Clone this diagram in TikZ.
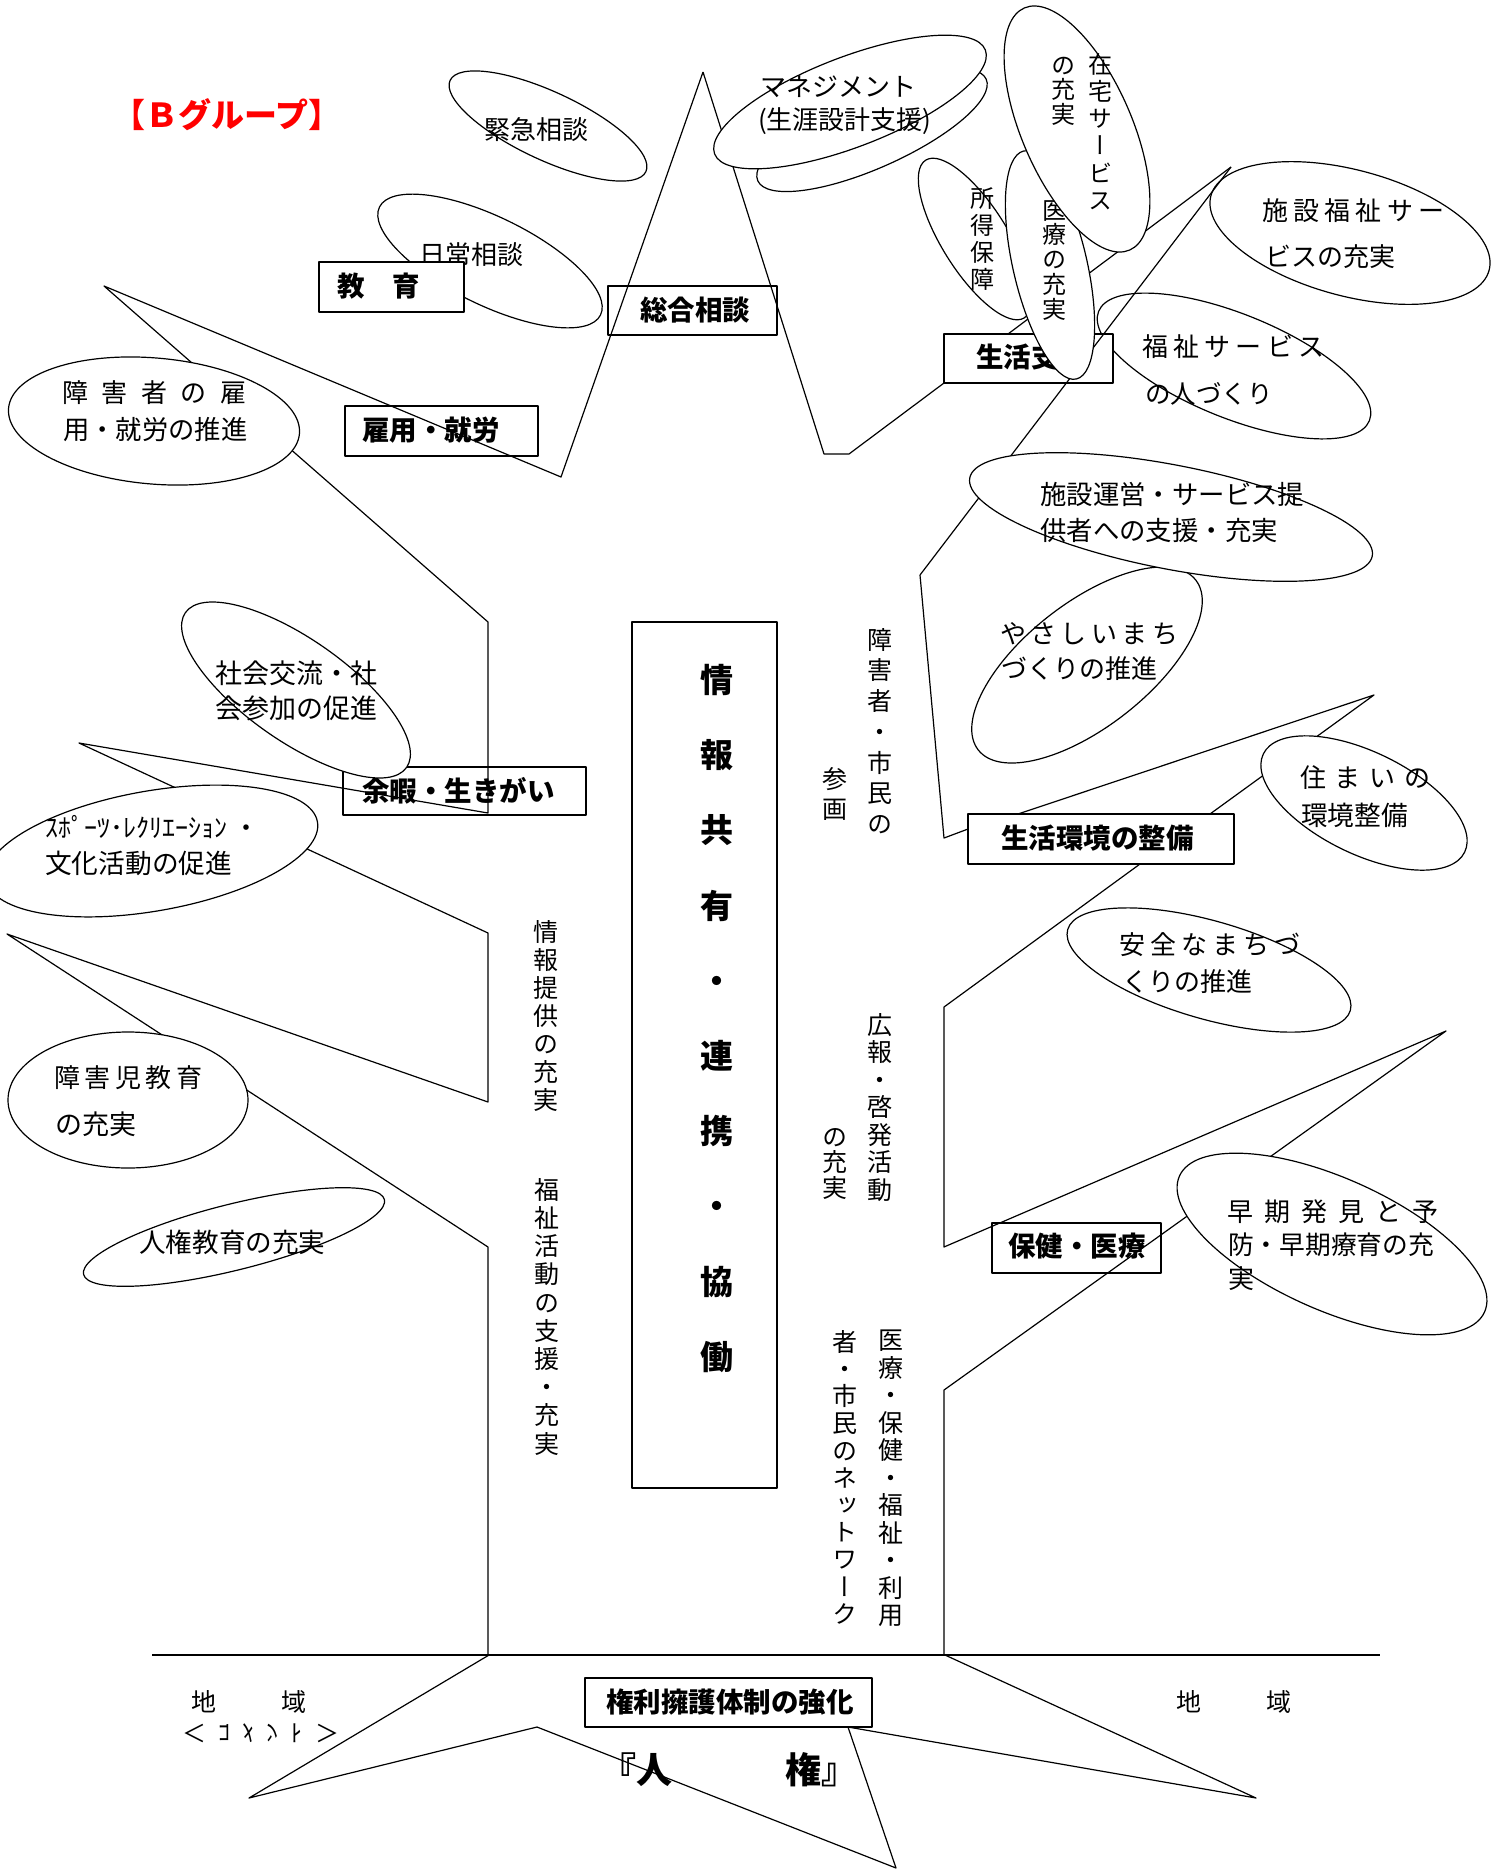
\documentclass[tikz,border=0pt]{standalone}
\usepackage{fontspec}
\usepackage{graphicx}
\setmainfont{Noto Sans CJK JP}
\newfontfamily\jp{Noto Sans CJK JP}
\newfontfamily\jpv[RawFeature=+vert]{Noto Sans CJK JP}
\usetikzlibrary{shapes.geometric}
\newcommand\jpsz[1]{\fontsize{#1pt}{#1pt}\selectfont}
\newcommand\spr[2]{\makebox[#1pt][s]{#2}}
\begin{document}
\begin{tikzpicture}[x=1pt,y=-1pt,line join=round,
  ln/.style={line width=1.2pt},
  ell/.style={draw, ellipse, inner sep=0pt, outer sep=0pt, line width=1.2pt, fill=white},
  boxn/.style={draw, rectangle, inner sep=0pt, line width=1.6pt},
  boxf/.style={boxn, fill=white},
  tx/.style={inner sep=0pt, anchor=west, font=\jp\jpsz{26}},
  bt/.style={inner sep=0pt, anchor=west, font=\jp\bfseries\jpsz{27.5}},
  vt/.style={inner sep=0pt, anchor=north, align=center}]
\useasboundingbox (0,0) rectangle (1501,1869);
\fill[white] (0,0) rectangle (1501,1869);

% title
\node[inner sep=0pt, font=\jp\bfseries\jpsz{33}, text=red] (title) at (227,115) {【Ｂグループ】};

% tree outline (under ellipses)
\draw[ln] (703,72) -- (561,477) -- (104,286) -- (488,622) -- (488,813) -- (79,743) -- (488,933) -- (488,1102) -- (7,934) -- (488,1247) -- (488,1655);
\draw[ln] (703,72) -- (824,454) -- (849,454) -- (944,383);
\draw[ln] (1008,334) -- (1231,167);
\draw[ln] (920,575) -- (944,838) -- (968,829);
\draw[ln] (1018,814) -- (1374,695) -- (1210,814);
\draw[ln] (1140,864) -- (944,1007) -- (944,1247) -- (1446,1031) -- (944,1390) -- (944,1655);
\draw[line width=2.5pt] (152,1655) -- (1380,1655);
\draw[ln] (489,1655) -- (249,1798) -- (537,1727) -- (896,1868) -- (848,1727) -- (1256,1798) -- (945,1655);

% ellipses group 1
\node[ell, minimum width=216pt, minimum height=68pt, rotate=-25] (eKinkyu) at (548,126) {};
\node[tx] (tKinkyu) at (484,130) {緊急相談};
\node[ell, minimum width=246pt, minimum height=88pt, rotate=-26] (eNichijo) at (490,261) {};
\node[tx] (tNichijo) at (419,255) {日常相談};
\node[ell, minimum width=250pt, minimum height=76pt, rotate=24] (eMgmtS) at (872,130) {};
\node[ell, minimum width=290pt, minimum height=90pt, rotate=21] (eMgmt) at (850,102) {};
\node[tx] (tMgmt1) at (760,87) {マネジメント};
\node[tx] (tMgmt2) at (758,121) {(生涯設計支援)};
\node[ell, minimum width=292pt, minimum height=126pt, rotate=-5] (eKoyo) at (154,421) {};
\node[tx] (tKoyo1) at (62,393) {\spr{184}{障\hfill 害\hfill 者\hfill の\hfill 雇}};
\node[tx, font=\jp\jpsz{26.3}] (tKoyo2) at (63,430) {用・就労の推進};
\node[ell, minimum width=336pt, minimum height=120pt, rotate=10] (eSports) at (152,851) {};
\node[tx, font=\jp\jpsz{26}] (tSports1) at (45,827) {ｽﾎﾟｰﾂ･ﾚｸﾘｴｰｼｮﾝ ・};
\node[tx, font=\jp\jpsz{26.7}] (tSports2) at (45,863) {文化活動の促進};
\node[ell, minimum width=240pt, minimum height=136pt] (eJido) at (128,1100) {};
\node[tx] (tJido1) at (54,1078) {\spr{148}{障\hfill 害\hfill 児\hfill 教\hfill 育}};
\node[tx, font=\jp\jpsz{27}] (tJido2) at (55,1124) {の充実};
\node[ell, minimum width=310pt, minimum height=66pt, rotate=14] (eJinken) at (234,1237) {};
\node[tx, font=\jp\jpsz{26.6}] (tJinken) at (139,1242) {人権教育の充実};
\node[ell, minimum width=288pt, minimum height=126pt, rotate=-15] (eShisetsu) at (1350,233) {};
\node[tx] (tShisetsu1) at (1262,211) {\spr{182}{施\hfill 設\hfill 福\hfill 祉\hfill サ\hfill ー}};
\node[tx] (tShisetsu2) at (1265,257) {ビスの充実};
\node[ell, minimum width=292pt, minimum height=104pt, rotate=-22] (eHito) at (1234,366) {};
\node[tx] (tHito1) at (1142,347) {\spr{182}{福\hfill 祉\hfill サ\hfill ー\hfill ビ\hfill ス}};
\node[tx, font=\jp\jpsz{25.5}] (tHito2) at (1145,394) {の人づくり};
\node[ell, minimum width=276pt, minimum height=124pt, rotate=38] (eYasashii) at (1087,665) {};
\node[tx] (tYasashii1) at (1000,634) {\spr{178}{や\hfill さ\hfill し\hfill い\hfill ま\hfill ち}};
\node[tx] (tYasashii2) at (1001,669) {づくりの推進};
\node[ell, minimum width=224pt, minimum height=102pt, rotate=-26] (eSumai) at (1364,803) {};
\node[tx] (tSumai1) at (1300,778) {\spr{130}{住\hfill ま\hfill い\hfill の}};
\node[tx, font=\jp\jpsz{26.7}] (tSumai2) at (1301,815) {環境整備};
\node[ell, minimum width=294pt, minimum height=98pt, rotate=-16] (eAnzen) at (1209,970) {};
\node[tx] (tAnzen1) at (1119,945) {\spr{181}{安\hfill 全\hfill な\hfill ま\hfill ち\hfill づ}};
\node[tx] (tAnzen2) at (1122,982) {くりの推進};
\node[ell, minimum width=334pt, minimum height=132pt, rotate=-24] (eSoki) at (1332,1244) {};
\node[tx] (tSoki1) at (1227,1212) {\spr{211}{早\hfill 期\hfill 発\hfill 見\hfill と\hfill 予}};
\node[tx, font=\jp\jpsz{25.75}] (tSoki2) at (1228,1245) {防・早期療育の充};
\node[tx] (tSoki3) at (1228,1279) {実};

% boxes
\node[boxf, minimum width=145pt, minimum height=50pt] (bKyoiku) at (391.5,287) {};
\node[bt] (tKyoiku) at (337,286) {教　育};
\node[boxn, minimum width=169pt, minimum height=49pt] (bSogo) at (692.5,310.5) {};
\node[bt] (tSogo) at (640,310) {総合相談};
\node[boxn, minimum width=193pt, minimum height=50pt] (bKoyo) at (441.5,431) {};
\node[bt] (tKoyoB) at (362,430) {雇用・就労};
\node[boxn, minimum width=243pt, minimum height=48pt] (bYoka) at (464.5,791) {};
\node[bt] (tYoka) at (362,791) {余暇・生きがい};
\node[boxf, minimum width=169pt, minimum height=49pt] (bSeikatsu) at (1028.5,358.5) {};
\node[bt] (tSeikatsu) at (976,357) {生活支援};
\node[boxf, minimum width=266pt, minimum height=50pt] (bKankyo) at (1101,839) {};
\node[bt] (tKankyo) at (1001,838) {生活環境の整備};
\node[boxn, minimum width=169pt, minimum height=50pt] (bHoken) at (1076.5,1248) {};
\node[bt] (tHoken) at (1008,1246) {保健・医療};
\node[boxf, minimum width=287pt, minimum height=49pt] (bKenri) at (728.5,1702.5) {};
\node[bt] (tKenri) at (606,1702) {権利擁護体制の強化};
\node[boxn, minimum width=145pt, minimum height=866pt] (bCenter) at (704.5,1055) {};
\node[vt, font=\jp\bfseries\fontsize{33pt}{75.2pt}\selectfont] (tCenter) at (717,664) {情\\報\\共\\有\\・\\連\\携\\・\\協\\働};

% ellipse over the leisure box
\node[ell, minimum width=270pt, minimum height=102pt, rotate=-35] (eShakai) at (296,690) {};
\node[tx, font=\jp\jpsz{27}] (tShakai1) at (215,673) {社会交流・社};
\node[tx, font=\jp\jpsz{27}] (tShakai2) at (215,708) {会参加の促進};

% long line over the life-support box
\draw[ln] (1231,167) -- (920,575);

% upper right cluster
\node[ell, minimum width=186pt, minimum height=66pt, rotate=-58] (eShotoku) at (975,239) {};
\node[vt, font=\jpv\fontsize{24pt}{27.3pt}\selectfont] (tShotoku) at (982,187) {所\\得\\保\\障};
\node[ell, minimum width=234pt, minimum height=74pt, rotate=-77] (eIryo) at (1050,265) {};
\node[vt, font=\jpv\fontsize{24pt}{24.75pt}\selectfont] (tIryo) at (1054,200) {医\\療\\の\\充\\実};
\node[ell, minimum width=264pt, minimum height=110pt, rotate=-66.5] (eZaitaku) at (1077,129) {};
\node[vt, font=\jpv\fontsize{24pt}{27.2pt}\selectfont] (tZaitaku1) at (1100,53) {在\\宅\\サ\\ー\\ビ\\ス};
\node[vt, font=\jpv\fontsize{24pt}{24.5pt}\selectfont] (tZaitaku2) at (1063,57) {の\\充\\実};

\node[ell, minimum width=410pt, minimum height=104pt, rotate=-11] (eUnei) at (1171,517) {};
\node[tx, font=\jp\jpsz{26.4}] (tUnei1) at (1040,494) {施設運営・サービス提};
\node[tx, font=\jp\jpsz{26.4}] (tUnei2) at (1040,530) {供者への支援・充実};

% vertical free texts
\node[vt, font=\jpv\fontsize{25pt}{28pt}\selectfont] (vJoho) at (546,920) {情\\報\\提\\供\\の\\充\\実};
\node[vt, font=\jpv\fontsize{25pt}{28.2pt}\selectfont] (vFukushi) at (547,1178) {福\\祉\\活\\動\\の\\支\\援\\・\\充\\実};
\node[vt, font=\jpv\fontsize{25pt}{30.7pt}\selectfont] (vSankaku1) at (880,628) {障\\害\\者\\・\\市\\民\\の};
\node[vt, font=\jpv\fontsize{25pt}{30pt}\selectfont] (vSankaku2) at (835,767) {参\\画};
\node[vt, font=\jpv\fontsize{25pt}{27.5pt}\selectfont] (vKoho1) at (880,1013) {広\\報\\・\\啓\\発\\活\\動};
\node[vt, font=\jpv\fontsize{25pt}{25.5pt}\selectfont] (vKoho2) at (835,1128) {の\\充\\実};
\node[vt, font=\jpv\fontsize{25pt}{27.5pt}\selectfont] (vNet1) at (891,1330) {医\\療\\・\\保\\健\\・\\福\\祉\\・\\利\\用};
\node[vt, font=\jpv\fontsize{25pt}{27.2pt}\selectfont] (vNet2) at (845,1330) {者\\・\\市\\民\\の\\ネ\\ッ\\ト\\ワ\\ー\\ク};

% ground texts
\node[tx, font=\jp\jpsz{25}] (gChiikiL) at (191,1702) {\spr{115}{地\hfill 域}};
\node[tx, font=\jp\jpsz{25}] (gChiikiR) at (1176,1702) {\spr{115}{地\hfill 域}};
\node[tx, font=\jp\jpsz{24}] (gComment) at (182,1733) {\scalebox{1}[-1]{\spr{157}{＜\hfill ｺ\hfill ﾒ\hfill ﾝ\hfill ﾄ\hfill ＞}}};
\node[inner sep=0pt, anchor=west, font=\jp\bfseries\jpsz{36}] (gJinken) at (600,1770) {『人\hspace{113pt}権』};
\end{tikzpicture}
\end{document}
